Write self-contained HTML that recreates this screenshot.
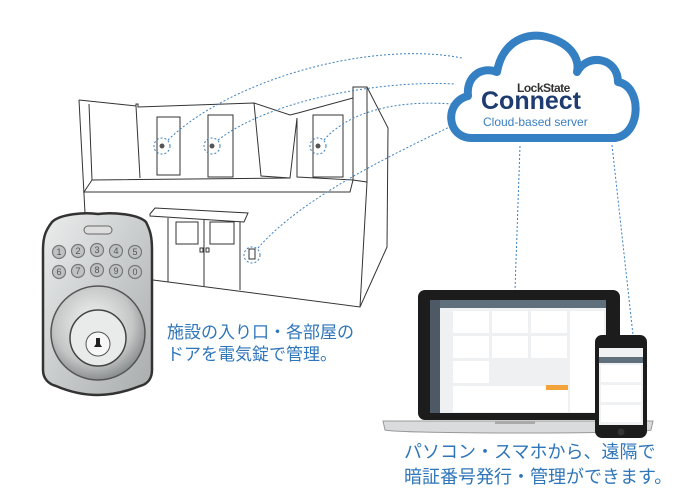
<!DOCTYPE html>
<html><head><meta charset="utf-8"><style>
html,body{margin:0;padding:0;background:#fff;}
svg{display:block}
.jp{font-family:"Liberation Sans","Noto Sans CJK JP",sans-serif;}
</style></head><body>
<svg width="685" height="495" viewBox="0 0 685 495" xmlns="http://www.w3.org/2000/svg">
<defs>
<linearGradient id="sil" x1="0" y1="0" x2="1" y2="1"><stop offset="0" stop-color="#eceeee"/><stop offset="0.5" stop-color="#c9cccc"/><stop offset="1" stop-color="#a9acad"/></linearGradient>
<radialGradient id="rg" cx="0.45" cy="0.4" r="0.6"><stop offset="0" stop-color="#f4f4f4"/><stop offset="0.7" stop-color="#c4c6c6"/><stop offset="1" stop-color="#8c8f90"/></radialGradient>
</defs>
<g fill="none" stroke="#333" stroke-width="1">
<path d="M79,100 L136,106 L136,104 L138,104 L138,107 L254,103 L290,115 L298,113 L353,98 L353,87 L367,87 L388,128 L387,247 L360,307 L153,280"/>
<path d="M79,100 L85,213"/>
<path d="M89,104 L92,180 L290,178 L297,118"/>
<path d="M136,106 L140,178"/>
<path d="M254,103 L261,176 L290,178"/>
<path d="M297,118 L297,177 L353,180 L353,98"/>
<path d="M92,180 L84,192 L350,192 L353,180"/>
<path d="M353,180 L367,182 L367,87"/>
<path d="M367,182 L360,307"/>
<rect x="157" y="117" width="23" height="58"/>
<rect x="208" y="115" width="25" height="62"/>
<rect x="313" y="115" width="30" height="62"/>
<path d="M150,214 L155,208 L248,213 L244,222 L150,216 Z"/>
<path d="M168,218 L168,282 M240,222 L240,290 M204,220 L204,286"/>
<rect x="176" y="222" width="22" height="22"/>
<rect x="210" y="222" width="24" height="22"/>
<rect x="200" y="248" width="3" height="4"/><rect x="206" y="248" width="3" height="4"/>
<rect x="249" y="249" width="6" height="10"/>
</g>
<g fill="none" stroke="#3c80bd" stroke-width="1" stroke-dasharray="2,2">
<circle cx="162" cy="146" r="8"/><circle cx="212" cy="146" r="8"/><circle cx="318" cy="146" r="8"/><circle cx="252" cy="255" r="8"/>
<path d="M168,140 C230,80 370,40 462,58"/>
<path d="M218,140 C270,100 380,80 455,84"/>
<path d="M324,140 C350,110 400,100 452,104"/>
<path d="M258,248 C300,200 380,160 460,122"/>
<path d="M520,146 L515,290"/>
<path d="M612,145 L633,335"/>
</g>
<g fill="#555"><circle cx="162" cy="146" r="2.5"/><circle cx="212" cy="146" r="2.5"/><circle cx="318" cy="146" r="2.5"/></g>
<path d="M472,138 C446,138 444,102 468,96 C466,76 482,66 497,72 C502,42 527,30 550,38 C570,44 580,58 577,72 C588,52 618,58 618,82 C642,86 642,134 615,138 Z" fill="#fff" stroke="#3580c2" stroke-width="8" stroke-linejoin="round"/>
<text x="517" y="92" font-family="Liberation Sans,sans-serif" font-size="12" font-weight="bold" fill="#333" letter-spacing="-0.5">LockState</text>
<text x="481" y="109" font-family="Liberation Sans,sans-serif" font-size="25" font-weight="bold" fill="#1e3c70" letter-spacing="0">Connect</text>
<text x="483" y="126" font-family="Liberation Sans,sans-serif" font-size="12" fill="#3a7fc0">Cloud-based server</text>
<path d="M52,222 C60,214 85,212 98,214 C112,212 138,214 146,222 C150,230 152,236 152,250 L152,370 C152,378 148,384 140,386 C125,392 110,395 98,395 C85,395 70,392 56,386 C48,384 43,378 43,370 L43,250 C43,236 46,230 52,222 Z" fill="url(#sil)" stroke="#333" stroke-width="2.5"/>
<rect x="84" y="226" width="28" height="8" rx="4" fill="#ddd" stroke="#666"/>
<g fill="#bfc2c2" stroke="#777" stroke-width="1.2">
<circle cx="59" cy="252" r="6.5"/><circle cx="78" cy="251" r="6.5"/><circle cx="97" cy="250" r="6.5"/><circle cx="116" cy="251" r="6.5"/><circle cx="135" cy="252" r="6.5"/>
<circle cx="59" cy="272" r="6.5"/><circle cx="78" cy="271" r="6.5"/><circle cx="97" cy="270" r="6.5"/><circle cx="116" cy="271" r="6.5"/><circle cx="135" cy="272" r="6.5"/>
</g>
<g fill="#555" font-family="Liberation Sans,sans-serif" font-size="9" text-anchor="middle">
<text x="59" y="255">1</text><text x="78" y="254">2</text><text x="97" y="253">3</text><text x="116" y="254">4</text><text x="135" y="255">5</text>
<text x="59" y="275">6</text><text x="78" y="274">7</text><text x="97" y="273">8</text><text x="116" y="274">9</text><text x="135" y="275">0</text>
</g>
<circle cx="98" cy="333" r="47" fill="url(#rg)" stroke="#555" stroke-width="1.5"/>
<circle cx="98" cy="338" r="28" fill="#e9eaea" stroke="#444" stroke-width="1.5"/>
<circle cx="98" cy="344" r="12" fill="#f7f7f7" stroke="#555"/>
<path d="M96,338 h4 v6 l2,3 h-8 l2,-3 z" fill="#222"/>
<g class="jp" font-size="17" fill="#2f76b9">
<text x="167" y="338">施設の入り口・各部屋の</text>
<text x="167" y="360">ドアを電気錠で管理。</text>
</g>
<rect x="418" y="290" width="202" height="130" rx="7" fill="#1c1c1c"/>
<rect x="430" y="300" width="176" height="113" fill="#eef0f1"/>
<rect x="430" y="300" width="10" height="113" fill="#4d5a66"/>
<rect x="440" y="300" width="166" height="8" fill="#5f6f7c"/>
<g fill="#fff"><rect x="453" y="311" width="36" height="22"/><rect x="492" y="311" width="36" height="22"/><rect x="531" y="311" width="36" height="22"/>
<rect x="453" y="336" width="36" height="22"/><rect x="492" y="336" width="36" height="22"/><rect x="531" y="336" width="36" height="22"/>
<rect x="453" y="361" width="36" height="22"/><rect x="453" y="386" width="115" height="26"/><rect x="570" y="311" width="34" height="101"/></g>
<rect x="546" y="385" width="22" height="5" fill="#f2a33a"/>
<path d="M383,421 L653,421 L651,430 C640,434 400,434 385,430 Z" fill="#d9dbdc" stroke="#999"/>
<rect x="495" y="421" width="40" height="3" fill="#aaa"/>
<rect x="595" y="335" width="52" height="103" rx="7" fill="#1c1c1c"/>
<rect x="599" y="348" width="44" height="77" fill="#f0f1f2"/>
<rect x="599" y="357" width="44" height="6" fill="#5f6f7c"/>
<g fill="#fff"><rect x="601" y="365" width="40" height="17"/><rect x="601" y="385" width="40" height="17"/><rect x="601" y="405" width="40" height="17"/></g>
<circle cx="621" cy="432" r="3.5" fill="#333"/>
<g class="jp" font-size="18" fill="#2f76b9">
<text x="404" y="458">パソコン・スマホから、遠隔で</text>
<text x="404" y="483">暗証番号発行・管理ができます。</text>
</g>
</svg>
</body></html>
